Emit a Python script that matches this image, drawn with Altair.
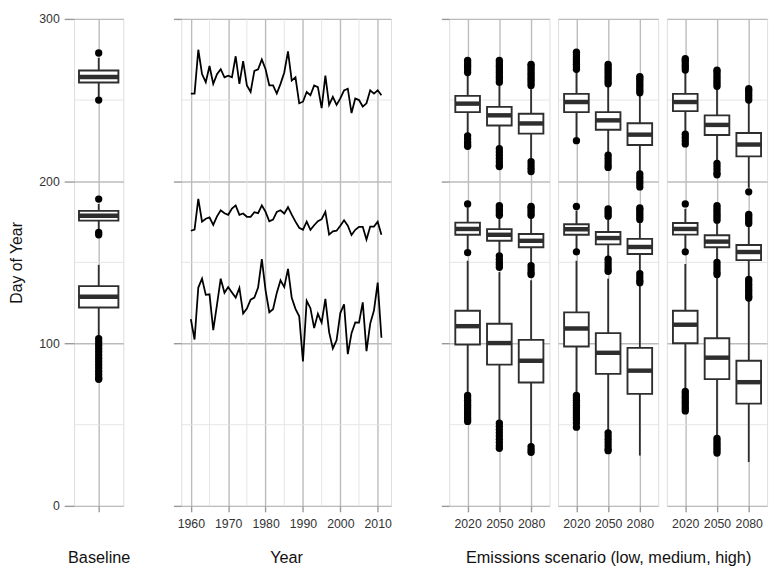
import altair as alt
import pandas as pd

FONT = "Liberation Sans"
INK = "#2e2e2e"
FRAME = "#999999"
GRID_MAJOR = "#bcbcbc"
GRID_MINOR = "#e3e3e3"
TICK = "#999999"
LABEL = "#333333"
TITLE = "#111111"

H = 494

# ---------------- data ----------------
Y_MAJOR = [0, 100, 200, 300]
Y_MINOR = [50, 150, 250]
YEAR_TICKS = [1960, 1970, 1980, 1990, 2000, 2010]
YEAR_MINOR = [1965, 1975, 1985, 1995, 2005]
PERIODS = ["2020", "2050", "2080"]
VARIABLES = ["late", "mid", "early"]

# baseline box statistics (late, mid, early)
BASE_LO = [252, 170.5, 104.5]
BASE_Q1 = [260.8, 175.7, 122.2]
BASE_MED = [264.2, 178.7, 128.8]
BASE_Q3 = [268.2, 181.7, 135.4]
BASE_HI = [276, 186, 148.5]
BASE_OUT = [279, 250, 189, 167, 168.5, 103, 101, 99, 97, 95, 93, 91, 89, 87,
            85, 83, 81, 79, 78]

# yearly series 1960-2011
YEARS = list(range(1960, 2012))
LATE = [254, 254, 281, 266, 261, 271, 260, 266, 269, 264, 265, 264, 277, 260,
        274, 259, 255, 268, 269, 275, 269, 259, 259, 254, 260, 267, 280, 262,
        264, 248, 249, 255, 253, 259, 258, 245, 265, 247, 252, 247, 251, 256,
        257, 242, 251, 250, 246, 248, 256, 254, 256, 253]
MID = [169.5, 170.2, 189.1, 175.1, 176.9, 177.8, 173.1, 178.4, 182.1, 180.3,
       179.3, 183.1, 185.1, 179.3, 180.1, 178.1, 178.1, 180.9, 180.3, 185.1,
       181.1, 175.3, 176.4, 181.1, 182.1, 180.1, 184.0, 179.4, 175.1, 171.3,
       170.1, 175.1, 170.1, 172.9, 175.4, 176.6, 181.1, 167.1, 169.1, 169.5,
       172.6, 175.9, 172.6, 166.9, 170.1, 171.9, 171.9, 164.1, 172.1, 172.1,
       175.1, 167.1]
EARLY = [115, 102.5, 134.5, 140, 130, 130.3, 108.3, 124, 140, 131.3, 134.8,
         131.5, 128.3, 134.3, 118.5, 121.6, 127, 128.3, 134.5, 152, 132.8,
         119.3, 121.2, 131.2, 139, 134.8, 146, 128.2, 121.4, 116.8, 89, 126.3,
         121.8, 109.5, 118.3, 112.9, 127.5, 107, 97, 102, 118.8, 124.2, 93.5,
         106.4, 113, 112.9, 125.4, 95.3, 112.3, 120.3, 137.5, 103.6]

# scenario boxes: period -> [(lo, q1, median, q3, hi) for late, mid, early]
LOW_STATS = {
    "2020": [(229, 242.6, 247.8, 252.6, 266), (158, 167, 170.6, 174.5, 184), (69, 99.4, 110.7, 120.2, 151)],
    "2050": [(221, 234.3, 240.6, 245.8, 260), (155, 163.3, 167, 170.5, 178), (52, 87, 100.3, 112.2, 144)],
    "2080": [(213, 229.3, 235.6, 241.6, 258), (149, 159.3, 163.3, 167.5, 178), (37.5, 76, 89.4, 102.3, 139)],
}
MEDIUM_STATS = {
    "2020": [(227, 242.6, 248.8, 253.8, 268), (158, 167, 170.4, 173.5, 182), (69, 98.2, 109.3, 119.2, 151)],
    "2050": [(217, 231.7, 237.5, 242.6, 259), (153, 161.1, 165, 168.7, 177), (46, 81.3, 94.3, 106.4, 140)],
    "2080": [(205.5, 222.3, 228.7, 235.7, 253.5), (144, 155.2, 159.5, 164.5, 175.5), (31, 69, 83.3, 97.3, 136)],
}
HIGH_STATS = {
    "2020": [(230, 243.2, 248.8, 253.8, 267.5), (158, 167.1, 170.6, 174.3, 183), (71.5, 100.2, 111.6, 120.2, 149)],
    "2050": [(212, 228.5, 234.7, 240.6, 257.5), (151, 159.3, 162.8, 166.7, 175), (42.5, 78.1, 91.3, 103.3, 142)],
    "2080": [(196, 215.3, 222.6, 229.7, 249), (141, 151.4, 156.4, 160.7, 173), (27, 63, 76.2, 89.4, 127)],
}

LOW_OUT = {
    "2020": [267, 268.5, 270, 271.5, 273, 274.5, 228, 226, 224, 222.5, 221.5, 186, 156,
             68, 66.5, 65, 63.5, 62, 60.5, 59, 57.5, 56, 54.5, 53, 52],
    "2050": [261, 262.5, 264, 265.5, 267, 268.5, 270, 271.5, 273, 274.5, 220, 218, 216,
             214, 212, 210, 209, 179, 180.5, 182, 183.5, 185, 154, 152, 150, 148.5, 147,
             51, 49, 47, 45, 43, 41, 39, 37, 35.5],
    "2080": [259, 260.5, 262, 263.5, 265, 266.5, 268, 269.5, 271, 272, 212, 210, 208, 206,
             179, 180.5, 182, 183.5, 184.5, 148, 146, 144, 142.5, 36.5, 34.5, 33],
}
MEDIUM_OUT = {
    "2020": [269, 270.5, 272, 273.5, 275, 276.5, 278, 279.5, 225, 184.5, 156.5,
             68, 66.5, 65, 63.5, 62, 60.5, 59, 57.5, 56, 54.5, 53, 51, 48.5],
    "2050": [260, 261.5, 263, 264.5, 266, 267.5, 269, 270.5, 272, 216, 214, 212, 210,
             208.5, 178.5, 180, 181.5, 183, 152, 150, 148, 146, 144.5,
             45, 43, 41, 39, 37, 35, 34],
    "2080": [254.5, 256, 257.5, 259, 260.5, 262, 263.5, 264.5, 204.5, 202.5, 200.5,
             198.5, 196.5, 176.5, 178, 179.5, 181, 182.5, 183.5, 143, 141, 139, 137.5],
}
HIGH_OUT = {
    "2020": [268.5, 270, 271.5, 273, 274.5, 275.5, 229, 227, 225, 223, 186, 156.5,
             70.5, 69, 67.5, 66, 64.5, 63, 61.5, 60, 58.5],
    "2050": [258.5, 260, 261.5, 263, 264.5, 266, 267.5, 268.5, 211, 209, 207, 205, 204,
             176, 177.5, 179, 180.5, 182, 183.5, 185, 150, 148, 146, 144, 142.5,
             41.5, 40, 38.5, 37, 35.5, 34, 32.5],
    "2080": [250, 251.5, 253, 254.5, 256, 257, 193.5, 174, 175.5, 177, 178.5, 179.5,
             139.5, 138, 136.5, 135, 133.5, 132, 130.5, 129, 128],
}

# ---------------- helpers ----------------
YSCALE = alt.Scale(domain=[0, 300], nice=False, zero=False)


def y_axis(kind):
    common = dict(values=Y_MAJOR, grid=True, gridColor=GRID_MAJOR, gridWidth=1.4,
                  domain=False, tickColor=TICK, tickWidth=1.4)
    if kind == "main":
        return alt.Axis(ticks=True, tickSize=10, labels=True, labelFont=FONT,
                        labelFontSize=12.5, labelColor=LABEL, labelPadding=5,
                        labelFlush=False, labelOverlap=False,
                        titleFont=FONT, titleFontSize=16, titleFontWeight="normal",
                        titleColor=TITLE, titlePadding=14, **common)
    if kind == "ticks":
        return alt.Axis(ticks=True, tickSize=8, labels=False, **common)
    return alt.Axis(ticks=False, labels=False, **common)


def x_axis(labels=True, values=None, title_padding=20, fmt=None):
    kw = dict(grid=True, gridColor=GRID_MAJOR, gridWidth=1.4, domain=False,
              ticks=True, tickSize=6, tickColor=TICK, tickWidth=1.4,
              labels=labels, labelFont=FONT, labelFontSize=12.5, labelColor=LABEL,
              labelPadding=6, labelAngle=0, labelFlush=False, labelOverlap=False,
              titleFont=FONT, titleFontSize=16.5, titleFontWeight="normal",
              titleColor=TITLE, titlePadding=title_padding)
    if values is not None:
        kw["values"] = values
    if fmt is not None:
        kw["format"] = fmt
    return alt.Axis(**kw)


def box_layers(box_df, out_df, xfield, xscale, xaxis, xtitle, yaxis, ytitle, width_px):
    X = alt.X(f"{xfield}:N", scale=xscale, axis=xaxis, title=xtitle)
    minor = alt.Chart(pd.DataFrame({"v": Y_MINOR})).mark_rule(
        color=GRID_MINOR, strokeWidth=0.9).encode(
        y=alt.Y("v:Q", scale=YSCALE, axis=yaxis, title=ytitle))
    whisk = alt.Chart(box_df).mark_rule(color=INK, strokeWidth=1.8).encode(
        x=X, y=alt.Y("lo:Q", scale=YSCALE, axis=yaxis, title=ytitle), y2="hi:Q")
    box = alt.Chart(box_df).mark_bar(size=width_px, fill="white", stroke=INK,
                                     strokeWidth=1.9).encode(
        x=X, y=alt.Y("q1:Q", scale=YSCALE, axis=yaxis, title=ytitle), y2="q3:Q")
    med = alt.Chart(box_df).mark_tick(size=width_px, thickness=4.5, color=INK,
                                      opacity=1).encode(
        x=X, y=alt.Y("med:Q", scale=YSCALE, axis=yaxis, title=ytitle))
    pts = alt.Chart(out_df).mark_circle(size=55, color="black", opacity=1).encode(
        x=X, y=alt.Y("value:Q", scale=YSCALE, axis=yaxis, title=ytitle))
    return alt.layer(minor, whisk, box, med, pts)


# ---------------- panel 1: baseline ----------------
base_df = pd.DataFrame({"grp": "Baseline", "var": VARIABLES, "lo": BASE_LO,
                        "q1": BASE_Q1, "med": BASE_MED, "q3": BASE_Q3,
                        "hi": BASE_HI})
base_out = pd.DataFrame({"grp": "Baseline", "value": BASE_OUT})
p1 = box_layers(base_df, base_out, "grp",
                alt.Scale(type="point", domain=["Baseline"]),
                x_axis(labels=False, title_padding=38), "Baseline",
                y_axis("main"), "Day of Year", 40).properties(width=50, height=H)

# ---------------- panel 2: yearly series ----------------
ts_df = pd.DataFrame({
    "year": YEARS * 3,
    "value": LATE + MID + EARLY,
    "series": ["late"] * len(YEARS) + ["mid"] * len(YEARS) + ["early"] * len(YEARS),
})
XYEAR = alt.Scale(domain=[1957.45, 2013.55], nice=False, zero=False)
xa_year = x_axis(values=YEAR_TICKS, fmt="d")
ya_ticks = y_axis("ticks")
p2_minor_y = alt.Chart(pd.DataFrame({"v": Y_MINOR})).mark_rule(
    color=GRID_MINOR, strokeWidth=0.9).encode(
    y=alt.Y("v:Q", scale=YSCALE, axis=ya_ticks, title=None))
p2_minor_x = alt.Chart(pd.DataFrame({"yr": YEAR_MINOR})).mark_rule(
    color=GRID_MINOR, strokeWidth=0.9).encode(
    x=alt.X("yr:Q", scale=XYEAR, axis=xa_year, title="Year"))
p2_lines = alt.Chart(ts_df).mark_line(color="#000000", strokeWidth=1.8).encode(
    x=alt.X("year:Q", scale=XYEAR, axis=xa_year, title="Year"),
    y=alt.Y("value:Q", scale=YSCALE, axis=ya_ticks, title=None),
    detail="series:N")
p2 = alt.layer(p2_minor_y, p2_minor_x, p2_lines).properties(width=212.7, height=H)


# ---------------- panel 3: scenarios ----------------
def scenario_panel(stats, outs, ykind, xtitle):
    rows = []
    for p in PERIODS:
        for v, (lo, q1, md, q3, hi) in zip(VARIABLES, stats[p]):
            rows.append({"period": p, "var": v, "lo": lo, "q1": q1, "med": md,
                         "q3": q3, "hi": hi})
    bdf = pd.DataFrame(rows)
    odf = pd.DataFrame([{"period": p, "value": v} for p in PERIODS for v in outs[p]])
    return box_layers(bdf, odf, "period",
                      alt.Scale(type="point", domain=PERIODS, padding=0.58),
                      x_axis(), xtitle, y_axis(ykind), None, 25)


f1 = scenario_panel(LOW_STATS, LOW_OUT, "ticks", None).properties(width=101.7, height=H)
f2 = scenario_panel(MEDIUM_STATS, MEDIUM_OUT, "none",
                    "Emissions scenario (low, medium, high)").properties(width=101.6, height=H)
f3 = scenario_panel(HIGH_STATS, HIGH_OUT, "none", None).properties(width=101.7, height=H)


def spacer():
    return alt.Chart(pd.DataFrame({"v": [0]})).mark_point(opacity=0).encode(
        x=alt.X("v:Q", axis=None), y=alt.Y("v:Q", axis=None)
    ).properties(width=41.5, height=H, view=alt.ViewBackground(stroke="transparent"))


chart = alt.hconcat(p1, spacer(), p2, spacer(), f1, f2, f3,
                    spacing=8.4, bounds="flush", padding=0
                    ).configure_view(stroke=FRAME, strokeWidth=1.5
                    ).configure(font=FONT)

chart.save("out.html", embed_options={"renderer": "svg", "actions": False})
